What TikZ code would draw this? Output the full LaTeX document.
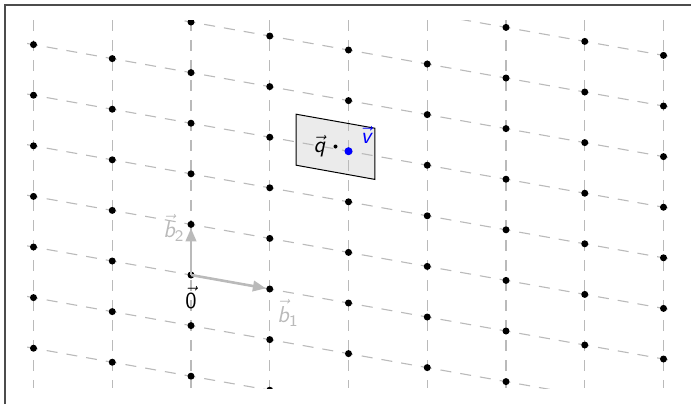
\documentclass[tikz,border=0pt]{standalone}
\usepackage{amsmath}
\usetikzlibrary{arrows.meta}
\begin{document}
\begin{tikzpicture}[x=0.5pt,y=-0.5pt,
  gridline/.style={draw=black!27, line width=0.55pt, dash pattern=on 5.5pt off 4.5pt},
  latdot/.style={circle, fill=black, inner sep=0pt, minimum size=3.5pt},
  vdot/.style={circle, fill=blue, inner sep=0pt, minimum size=4pt},
  qdot/.style={circle, fill=black, inner sep=0pt, minimum size=2pt},
  basis/.style={draw=black!27, line width=1.3pt, -{Triangle[length=6.5pt,width=5.2pt]}},
  cell/.style={fill=black!8, draw=black, line width=0.5pt},
  lbl/.style={font=\fontsize{11.5}{13}\selectfont\sffamily, inner sep=0pt},
  frameline/.style={draw=black!70, line width=1pt}
]
\useasboundingbox (0,0) rectangle (691,404);
\def\ox{191}\def\oy{275}
\def\ax{78.75}\def\ay{14}\def\by{-50.6}
% frame
\draw[frameline] (5,404) -- (5,5) -- (691,5);
% fundamental cell around q
\coordinate (q) at (335.5,146.5);
\coordinate (c1) at (296.125,114.2);
\coordinate (c2) at (374.875,128.2);
\coordinate (c3) at (374.875,179.4);
\coordinate (c4) at (296.125,165.2);
\fill[black!8] (c1) -- (c2) -- (c3) -- (c4) -- cycle;
% grid lines
\begin{scope}
  \clip (27,20) rectangle (676,388);
  \foreach \i in {-2,...,6} {
    \coordinate (vt\i) at ({\ox+\ax*\i},20);
    \coordinate (vb\i) at ({\ox+\ax*\i},388);
    \draw[gridline] (vt\i) -- (vb\i);
  }
  \foreach \j in {-3,...,6} {
    \coordinate (hl\j) at (27,{\oy+\by*\j+\ay*(27-\ox)/\ax});
    \coordinate (hr\j) at (676,{\oy+\by*\j+\ay*(676-\ox)/\ax});
    \draw[gridline] (hl\j) -- (hr\j);
  }
\end{scope}
\draw[cell, fill=none] (c1) -- (c2) -- (c3) -- (c4) -- cycle;
% lattice points
\begin{scope}
  \clip (27,20) rectangle (676,388);
  \foreach \i in {-2,...,6} {
    \foreach \j in {-3,...,7} {
      \node[latdot] (p\i\j) at ({\ox+\ax*\i},{\oy+\ay*\i+\by*\j}) {};
    }
  }
\end{scope}
% basis vectors
\draw[basis] (p00.center) -- (p10);
\draw[basis] (p00.center) -- (p01);
% v and q
\node[vdot] (v) at (p23.center) {};
\node[qdot] (qd) at (q) {};
% labels
\node[lbl] (l0) at (191,298) {$\vec{\text{0}}$};
\node[lbl, text=black!27] (lb1) at (288,313) {$\vec{\text{\itshape b}}_{\text{1}}$};
\node[lbl, text=black!27] (lb2) at (174,228) {$\vec{\text{\itshape b}}_{\text{2}}$};
\node[lbl] (lq) at (319.5,146.5) {$\vec{\text{\itshape q}}$};
\node[lbl, text=blue] (lv) at (366,134.5) {$\vec{\text{\itshape v}}$};
\end{tikzpicture}
\end{document}
